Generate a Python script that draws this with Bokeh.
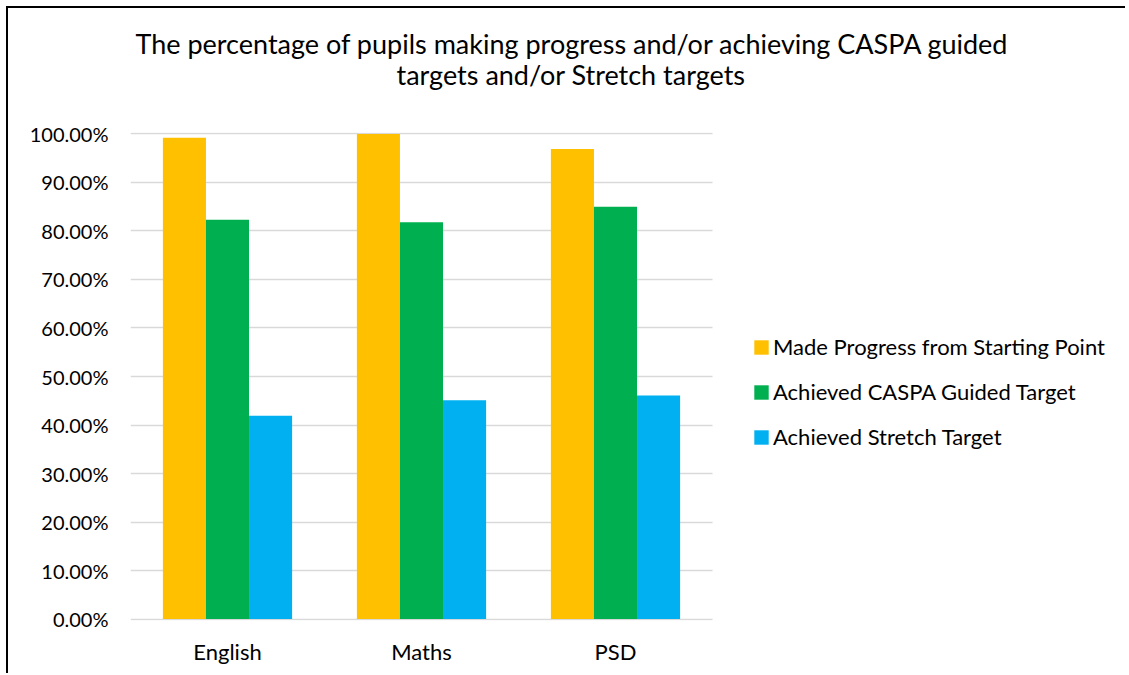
from bokeh.plotting import figure
from bokeh.models import (Range1d, NumeralTickFormatter, FixedTicker,
                          Legend, LegendItem, Title, ColumnDataSource)
from bokeh.transform import dodge
from bokeh.embed import file_html
from bokeh.resources import INLINE

categories = ["English", "Maths", "PSD"]
series_names = ["Made Progress from Starting Point",
                "Achieved CASPA Guided Target",
                "Achieved Stretch Target"]
made_progress = [0.992, 1.000, 0.969]
caspa_guided = [0.823, 0.818, 0.850]
stretch = [0.419, 0.451, 0.461]
y_ticks = [0.0, 0.1, 0.2, 0.3, 0.4, 0.5, 0.6, 0.7, 0.8, 0.9, 1.0]
colors = ["#FFC000", "#00B050", "#00B0F0"]
title_lines = ["The percentage of pupils making progress and/or achieving CASPA guided",
               "targets and/or Stretch targets"]

FONT = "Lato"

x_pos = list(range(len(categories)))
source = ColumnDataSource(data=dict(x=x_pos, a=made_progress,
                                    b=caspa_guided, c=stretch))

W, H = 1119, 667
LEFT = 122
UNIT_PX = 194.0          # pixels per category slot
x_end = -0.5 + (W - LEFT) / UNIT_PX

p = figure(width=W, height=H, x_range=Range1d(-0.5, x_end),
           y_range=Range1d(-0.003, 1.003), output_backend="svg", toolbar_location=None,
           min_border_left=LEFT, min_border_top=124,
           min_border_right=0, min_border_bottom=55)
p.styles = {"margin-left": "6px", "margin-top": "6px",
            "border-top": "2px solid black", "border-left": "2px solid black"}
p.outline_line_color = None
p.background_fill_color = "white"
p.border_fill_color = "white"

bw = 0.222
renderers = []
for col, off, color in zip(["a", "b", "c"], [-bw, 0, bw], colors):
    r = p.vbar(x=dodge("x", off), top=col, bottom=0, width=bw,
               source=source, fill_color=color, line_color=None)
    renderers.append(r)

# axes
p.yaxis.ticker = FixedTicker(ticks=y_ticks)
p.yaxis.formatter = NumeralTickFormatter(format="0.00%")
p.yaxis.axis_line_color = None
p.yaxis.major_tick_line_color = None
p.yaxis.minor_tick_line_color = None
p.yaxis.major_tick_out = 0
p.yaxis.major_label_standoff = 22
p.yaxis.major_label_text_font = FONT
p.yaxis.major_label_text_font_size = "20px"
p.yaxis.major_label_text_color = "black"

p.xaxis.ticker = FixedTicker(ticks=x_pos)
p.xaxis.major_label_overrides = {i: c for i, c in zip(x_pos, categories)}
p.xaxis.axis_line_color = None
p.xaxis.major_tick_line_color = None
p.xaxis.minor_tick_line_color = None
p.xaxis.major_tick_out = 0
p.xaxis.major_label_standoff = 17
p.xaxis.major_label_text_font = FONT
p.xaxis.major_label_text_font_size = "22px"
p.xaxis.major_label_text_color = "black"

p.xgrid.grid_line_color = None
grid_x0, grid_x1 = -0.5, len(categories) - 0.5
ygrid = p.ygrid[0]
ygrid.ticker = FixedTicker(ticks=y_ticks)
if "cross_bounds" in ygrid.properties():
    ygrid.cross_bounds = (grid_x0, grid_x1)
    ygrid.grid_line_color = "#D9D9D9"
    ygrid.grid_line_width = 1.5
else:
    ygrid.grid_line_color = None
    p.segment(x0=[grid_x0] * len(y_ticks), x1=[grid_x1] * len(y_ticks),
              y0=y_ticks, y1=y_ticks, line_color="#D9D9D9", line_width=1.5,
              level="underlay")

# title: spacer + two lines (stacked outward from the plot frame)
spacer = Title(text=" ", text_font=FONT, text_font_size="1px", standoff=39)
t2 = Title(text=title_lines[1], align="left", offset=266, standoff=0,
           text_font=FONT, text_font_size="27px", text_font_style="normal",
           text_color="black")
t1 = Title(text=title_lines[0], align="left", offset=5, standoff=-8,
           text_font=FONT, text_font_size="27px", text_font_style="normal",
           text_color="black")
p.add_layout(spacer, "above")
p.add_layout(t2, "above")
p.add_layout(t1, "above")

legend = Legend(items=[LegendItem(label=n, renderers=[r])
                       for n, r in zip(series_names, renderers)],
                location=(622, 170), orientation="vertical")
legend.label_text_font = FONT
legend.label_text_font_size = "22px"
legend.label_text_color = "black"
legend.glyph_width = 18
legend.glyph_height = 18
legend.label_standoff = 3
legend.label_height = 22
legend.spacing = 18
legend.padding = 0
legend.margin = 0
legend.border_line_color = None
legend.background_fill_alpha = 0
p.add_layout(legend, "center")

open("out.html", "w").write(file_html(p, INLINE))
